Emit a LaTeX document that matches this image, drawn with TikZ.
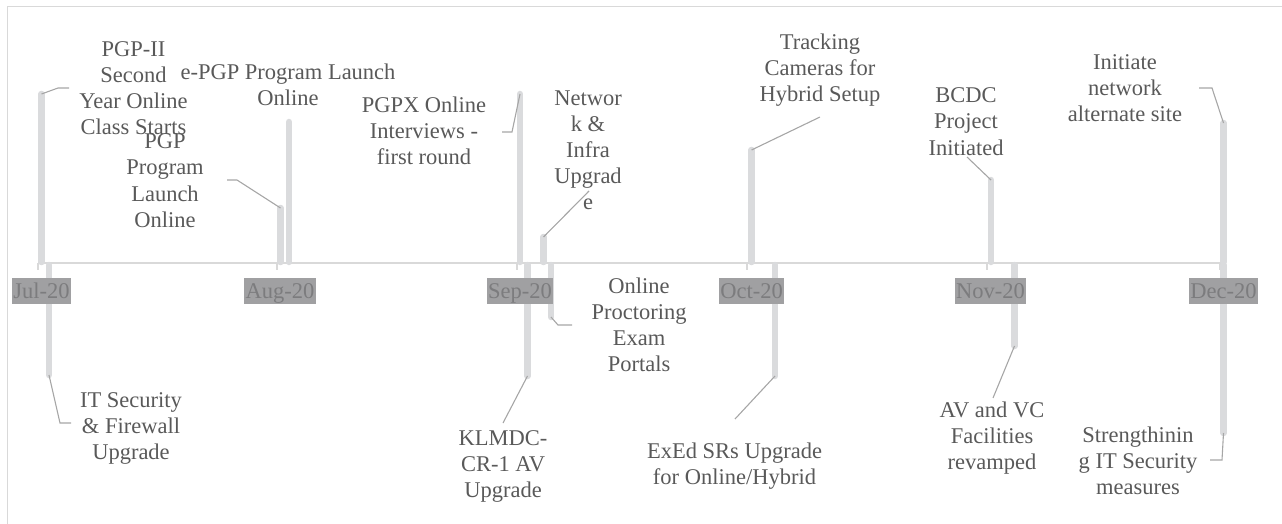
\documentclass[tikz,border=0pt]{standalone}
\usepackage{fontspec}
\setmainfont{Liberation Serif}

\definecolor{framec}{RGB}{217,217,217}
\definecolor{axisc}{RGB}{217,217,217}
\definecolor{barc}{RGB}{218,219,221}
\definecolor{leadc}{RGB}{166,166,166}
\definecolor{txt}{RGB}{89,89,89}
\definecolor{boxc}{RGB}{160,160,162}
\definecolor{boxt}{RGB}{124,124,126}

% multi-line event text whose baseline is the first line
\newcommand{\evtext}[1]{\begin{tabular}[t]{@{}c@{}}#1\end{tabular}}

\tikzset{
  evbar/.style={line width=6.5pt, line cap=round, draw=barc},
  leader/.style={line width=1.1pt, draw=leadc},
  axisline/.style={line width=1.8pt, draw=axisc},
  axtick/.style={line width=1.2pt, draw=axisc},
  evlabel/.style={anchor=base, inner sep=0pt, text=txt,
    font=\fontsize{22.5}{26}\selectfont},
  datebox/.style={fill=boxc, text=boxt, inner xsep=1.5pt, inner ysep=1pt,
    text height=19.5pt, text depth=4.5pt,
    font=\fontsize{22.5}{26}\selectfont},
}

\begin{document}
\begin{tikzpicture}[x=1pt,y=-1pt]
\useasboundingbox (0,0) rectangle (1282,524);

% outer frame (top and left edges show)
\draw[framec, line width=1pt] (7,530) -- (7,7) -- (1290,7);

% time axis with monthly ticks
\coordinate (ax0) at (38,263);
\coordinate (ax1) at (1221,263);
\draw[axisline] (ax0) -- (ax1);
\foreach \m in {38,277,517,747,987,1220}
  \draw[axtick] (\m,263) -- (\m,270);

% ---- events above the axis ----
% PGP-II Second Year
\coordinate (a1) at (41.5,262); \coordinate (t1) at (41.5,94);
\coordinate (k1) at (58,88);    \coordinate (e1) at (69,88);
% PGP Program Launch
\coordinate (a2) at (280.5,262); \coordinate (t2) at (280.5,208);
\coordinate (k2) at (237,180);   \coordinate (e2) at (227,180);
% e-PGP Program Launch
\coordinate (a3) at (289,262); \coordinate (t3) at (289,122);
% PGPX interviews
\coordinate (a4) at (520,262); \coordinate (t4) at (520,94);
\coordinate (k4) at (512,132); \coordinate (e4) at (502,132);
% Network & Infra
\coordinate (a5) at (543.5,262); \coordinate (t5) at (543.5,237);
\coordinate (e5) at (589,191);
% Tracking cameras
\coordinate (a6) at (751.5,262); \coordinate (t6) at (751.5,150);
\coordinate (e6) at (820,117);
% BCDC
\coordinate (a7) at (991,262); \coordinate (t7) at (991,180);
\coordinate (e7) at (967,157);
% Initiate network alternate site
\coordinate (a8) at (1223.5,262); \coordinate (t8) at (1223.5,123);
\coordinate (k8) at (1212,88);    \coordinate (e8) at (1199,88);

% ---- events below the axis ----
% IT Security & Firewall
\coordinate (a9) at (49,265);  \coordinate (t9) at (49,375);
\coordinate (k9) at (60,423);  \coordinate (e9) at (71,423);
% KLMDC
\coordinate (a10) at (527.5,265); \coordinate (t10) at (527.5,376);
\coordinate (e10) at (503,423);
% Online Proctoring
\coordinate (a11) at (551,265); \coordinate (t11) at (551,317);
\coordinate (k11) at (558,325); \coordinate (e11) at (572,325);
% ExEd SRs
\coordinate (a12) at (775,265); \coordinate (t12) at (775,376);
\coordinate (e12) at (735,419);
% AV and VC
\coordinate (a13) at (1014.5,265); \coordinate (t13) at (1014.5,346);
\coordinate (e13) at (993,398);
% Strengthening IT security
\coordinate (a14) at (1223.5,265); \coordinate (t14) at (1223.5,433);
\coordinate (k14) at (1222,460);   \coordinate (e14) at (1210,460);

% bars
\foreach \i in {1,...,14}
  \draw[evbar] (a\i) -- (t\i);

% leader lines
\draw[leader] (t1) -- (k1) -- (e1);
\draw[leader] (t2) -- (k2) -- (e2);
\draw[leader] (t4) -- (k4) -- (e4);
\draw[leader] (t5) -- (e5);
\draw[leader] (t6) -- (e6);
\draw[leader] (t7) -- (e7);
\draw[leader] (t8) -- (k8) -- (e8);
\draw[leader] (t9) -- (k9) -- (e9);
\draw[leader] (t10) -- (e10);
\draw[leader] (t11) -- (k11) -- (e11);
\draw[leader] (t12) -- (e12);
\draw[leader] (t13) -- (e13);
\draw[leader] (t14) -- (k14) -- (e14);

% month labels
\node[datebox] (m1) at (41.5,291)  {Jul-20};
\node[datebox] (m2) at (280,291)   {Aug-20};
\node[datebox] (m3) at (520,291)   {Sep-20};
\node[datebox] (m4) at (751.5,291) {Oct-20};
\node[datebox] (m5) at (990.5,291) {Nov-20};
\node[datebox] (m6) at (1223.5,291){Dec-20};

% event texts
\node[evlabel] (l1)  at (133.5,57)  {\evtext{PGP-II\\Second\\Year Online\\Class Starts}};
\node[evlabel] (l2)  at (165,149)   {\evtext{PGP\\Program\\Launch\\Online}};
\node[evlabel] (l3)  at (288,79.5)  {\evtext{e-PGP Program Launch\\Online}};
\node[evlabel] (l4)  at (424,112.5) {\evtext{PGPX Online\\Interviews -\\first round}};
\node[evlabel] (l5)  at (588,106)   {\evtext{Networ\\k \&\\Infra\\Upgrad\\e}};
\node[evlabel] (l6)  at (820,50)    {\evtext{Tracking\\Cameras for\\Hybrid Setup}};
\node[evlabel] (l7)  at (966,103)   {\evtext{BCDC\\Project\\Initiated}};
\node[evlabel] (l8)  at (1125,70)   {\evtext{Initiate\\network\\alternate site}};
\node[evlabel] (l9)  at (131,407)   {\evtext{IT Security\\\& Firewall\\Upgrade}};
\node[evlabel] (l10) at (503,445)   {\evtext{KLMDC-\\CR-1 AV\\Upgrade}};
\node[evlabel] (l11) at (639,293)   {\evtext{Online\\Proctoring\\Exam\\Portals}};
\node[evlabel] (l12) at (734.5,458) {\evtext{ExEd SRs Upgrade\\for Online/Hybrid}};
\node[evlabel] (l13) at (992,417)   {\evtext{AV and VC\\Facilities\\revamped}};
\node[evlabel] (l14) at (1138,442)  {\evtext{Strengthinin\\g IT Security\\measures}};
\end{tikzpicture}
\end{document}
